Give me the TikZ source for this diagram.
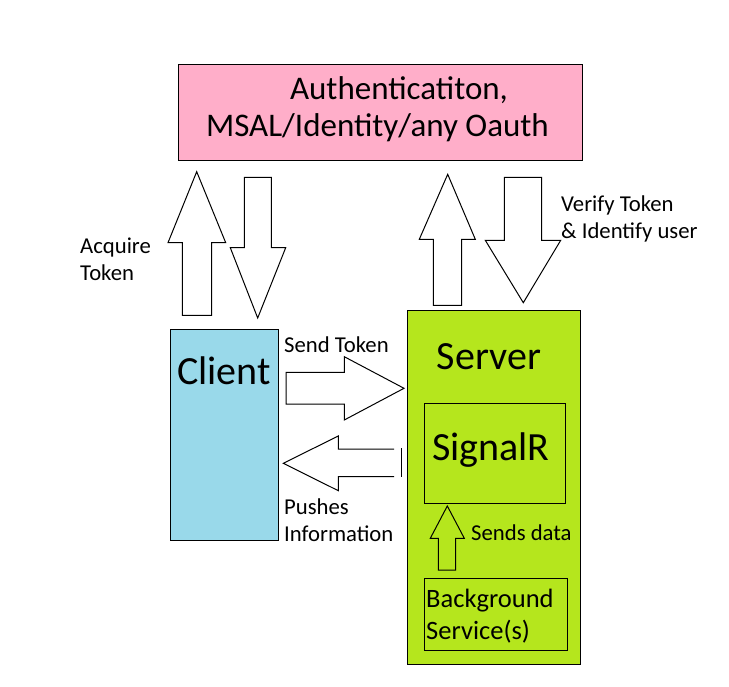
\documentclass[tikz,border=0pt]{standalone}
\usepackage{fontspec}
\setmainfont{Carlito}
\definecolor{authpink}{HTML}{FFAEC9}
\definecolor{clientblue}{HTML}{99D9EA}
\definecolor{serverlime}{HTML}{B5E61D}
\begin{document}
\begin{tikzpicture}[x=1pt,y=-1pt,
  box/.style={draw=black, line width=1pt, inner sep=0pt, anchor=north west},
  blockarrow/.style={draw=black, fill=white, line width=1pt, line join=miter},
  lbl/.style={inner sep=0pt, align=left, font=\fontsize{22.7}{27}\selectfont},
  big/.style={inner sep=0pt, font=\fontsize{33}{38}\selectfont},
  huge/.style={inner sep=0pt, font=\fontsize{40}{44}\selectfont}]
\useasboundingbox (0,0) rectangle (729,687);
% boxes
\node[box, fill=authpink, minimum width=404, minimum height=96] (auth) at (178,64) {};
\node[box, fill=clientblue, minimum width=108, minimum height=211] (client) at (170,329) {};
\node[box, fill=serverlime, minimum width=173, minimum height=354] (server) at (407,310) {};
\node[box, minimum width=141, minimum height=100] (signalr) at (424,403) {};
\node[box, minimum width=143, minimum height=72] (bg) at (424,578) {};
% texts
\node[big] (auth1) at (399,90) {Authenticatiton,};
\node[big] (auth2) at (377.5,128) {MSAL/Identity/any Oauth};
\node[huge] (clienttxt) at (224,371) {Client};
\node[huge] (servertxt) at (489,357) {Server};
\node[huge] (signalrtxt) at (491,450) {SignalR};
\node[inner sep=0pt, anchor=west, align=left, font=\fontsize{26.5}{32}\selectfont] (bgtxt) at (426,616) {Background\\Service(s)};
\node[lbl, anchor=west] (acq) at (80,259) {Acquire\\Token};
\node[lbl, anchor=west] (ver) at (561,219) {Verify Token\\\& Identify user};
\node[lbl, anchor=west] (send) at (284,345) {Send Token};
\node[lbl, anchor=west] (push) at (284,520) {Pushes\\Information};
\node[lbl, anchor=west] (sends) at (471,533) {Sends data};
% block arrows
\draw[blockarrow] (196.7,171.7) -- (225.7,242.7) -- (211.7,242.7) -- (211.7,315.3) -- (182.3,315.3) -- (182.3,242.7) -- (168,242.7) -- cycle;
\draw[blockarrow] (257.7,318) -- (285.7,247.7) -- (271.3,247.7) -- (271.3,177.3) -- (244.3,177.3) -- (244.3,247.7) -- (230.3,247.7) -- cycle;
\draw[blockarrow] (447.7,174.3) -- (475.3,239.3) -- (461.7,239.3) -- (461.7,305.3) -- (433.3,305.3) -- (433.3,239.3) -- (419.3,239.3) -- cycle;
\draw[blockarrow] (523.3,302.7) -- (560.7,240.3) -- (541.7,240.3) -- (541.7,177.3) -- (504.3,177.3) -- (504.3,240.3) -- (485.3,240.3) -- cycle;
\draw[blockarrow] (404,388.3) -- (344.3,356.7) -- (344.3,372.3) -- (286,372.3) -- (286,404) -- (344.3,404) -- (344.3,420) -- cycle;
\draw[blockarrow] (394,449) -- (338.3,449) -- (338.3,436) -- (283.3,463.3) -- (338.3,490.7) -- (338.3,476.7) -- (394,476.7);
\coordinate (pbt) at (401.7,448.3);
\coordinate (pbb) at (401.7,477.3);
\draw[line width=1pt] (pbt) -- (pbb);
\draw[blockarrow, fill=serverlime] (447.3,506) -- (464.3,538.3) -- (455.7,538.3) -- (455.7,570) -- (438.3,570) -- (438.3,538.3) -- (430.3,538.3) -- cycle;
\end{tikzpicture}
\end{document}
